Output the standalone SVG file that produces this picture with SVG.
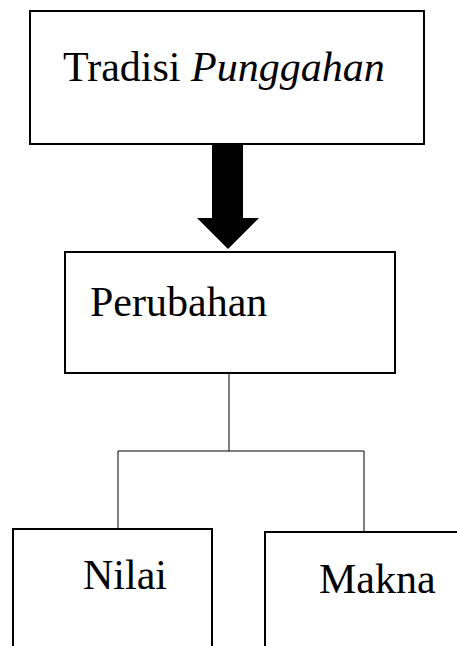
<svg xmlns="http://www.w3.org/2000/svg" width="457" height="646" viewBox="0 0 457 646">
<style>
.box{fill:#fff;stroke:#000;stroke-width:2}
.t{font-family:"Liberation Serif","Times New Roman",serif;font-size:42px;fill:#000}
.c{stroke:#000;stroke-width:1;fill:none}
</style>
<rect width="457" height="646" fill="#fff"/>
<g id="connectors">
<polygon points="212,144 243,144 243,218 259,218 228,249 197,218 212,218" fill="#000"/>
<polyline class="c" points="229,374 229,451"/>
<polyline class="c" points="118,529 118,451 364,451 364,532"/>
</g>
<g id="tradisi">
<rect class="box" x="30" y="11" width="394" height="133"/>
<text class="t" x="63" y="81">Tradisi <tspan font-style="italic">Punggahan</tspan></text>
</g>
<g id="perubahan">
<rect class="box" x="65" y="252" width="330" height="121"/>
<text class="t" x="90" y="316">Perubahan</text>
</g>
<g id="nilai">
<rect class="box" x="13" y="529" width="199" height="125"/>
<text class="t" x="83" y="589">Nilai</text>
</g>
<g id="makna">
<rect class="box" x="265" y="532" width="200" height="125"/>
<text class="t" x="319" y="593">Makna</text>
</g>
</svg>
